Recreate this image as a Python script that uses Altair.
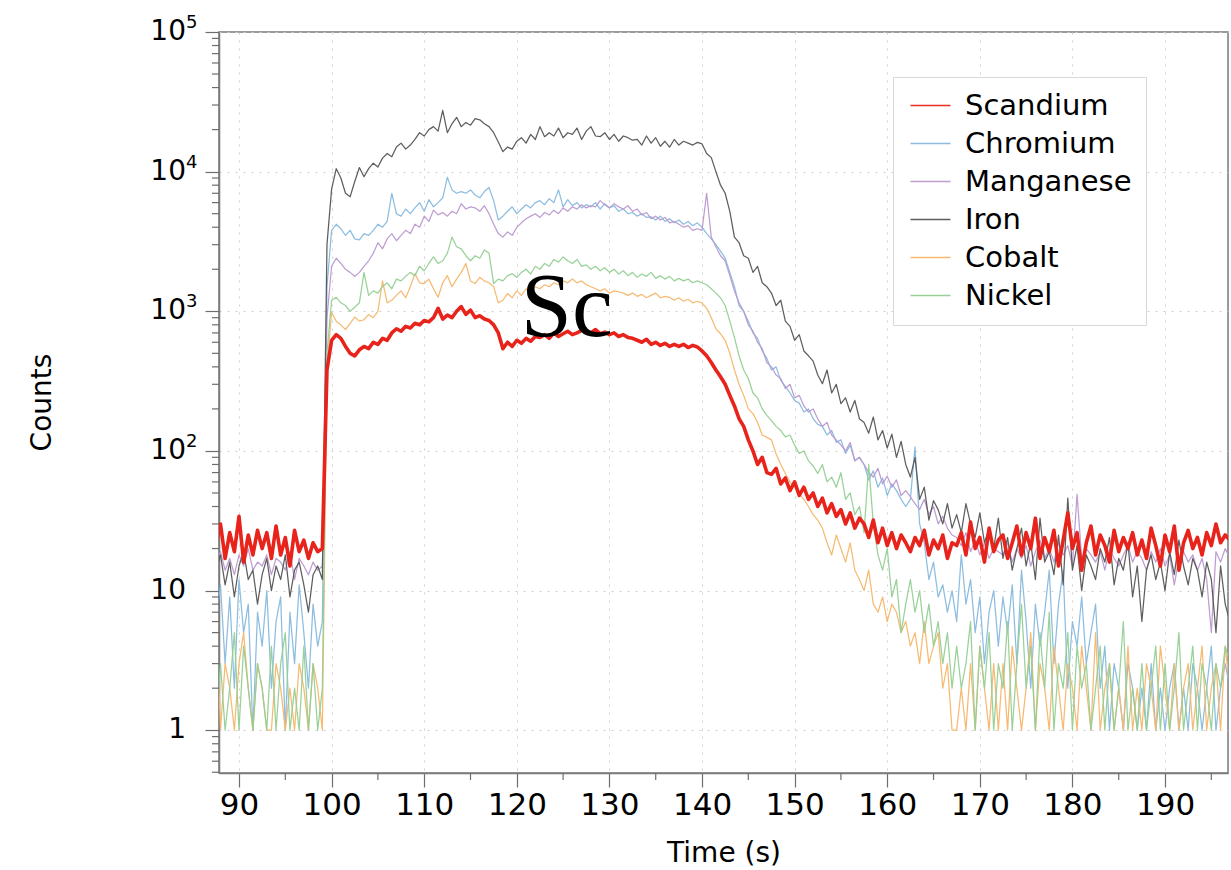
import altair as alt
import pandas as pd

# ---- time grid (0.5 s sampling) ----
T_START = 87.5
T_STEP = 0.5

# ---- counts (0.5 s steps, 87.5 s .. 197.0 s) ----
scandium = [
    21, 30, 17, 26, 19, 34, 16, 25, 18, 27,
    20, 26, 17, 29, 18, 24, 15, 27, 19, 23,
    17, 22, 19, 20, 380, 620, 680, 640, 560, 500,
    480, 530, 560, 540, 600, 580, 640, 620, 700, 750,
    720, 780, 760, 820, 800, 860, 840, 900, 1050, 880,
    940, 900, 1000, 1080, 950, 1020, 900, 930, 880, 860,
    800, 700, 540, 600, 560, 620, 590, 640, 610, 660,
    650, 680, 640, 700, 660, 690, 720, 680, 700, 730,
    720, 700, 740, 690, 710, 680, 700, 660, 680, 650,
    640, 620, 600, 630, 580, 600, 570, 590, 560, 580,
    560, 580, 550, 570, 555, 520, 480, 430, 380, 340,
    300, 250, 210, 170, 150, 120, 100, 80, 90, 70,
    68, 75, 58, 64, 52, 60, 48, 55, 45, 50,
    40, 46, 36, 42, 34, 38, 30, 36, 28, 33,
    30, 24, 32, 22, 28, 21, 26, 20, 25, 22,
    19, 24, 21, 27, 18, 23, 20, 25, 17, 22,
    21, 26, 18, 31, 20, 24, 16, 28, 19, 23,
    25, 17, 22, 29, 18, 26, 20, 33, 17, 24,
    19, 27, 15, 23, 36, 20, 26, 14, 22, 29,
    18, 25, 21, 16, 27, 19, 24, 20, 26, 18,
    23, 17, 28, 21, 15, 25, 19, 29, 14, 22,
    27, 20, 24, 18, 26, 21, 30, 22, 25, 23,
]

chromium = [
    6, 11, 3, 9, 2, 12, 5, 8, 1, 7,
    4, 10, 2, 6, 9, 1, 7, 3, 11, 5,
    2, 8, 4, 6, 1500, 3800, 4200, 3900, 3500, 3800,
    3300, 3250, 3600, 3500, 3800, 4200, 4000, 4400, 7000, 5000,
    4800, 5400, 5000, 5500, 6000, 5200, 6300, 5600, 6000, 6500,
    9100, 7400, 7000, 7200, 7000, 7400, 6800, 6500, 7200, 7700,
    6200, 4500, 4800, 5200, 5600, 5000, 5400, 5800, 5500, 6000,
    6200, 5800, 6400, 6000, 7400, 5600, 6300, 5700, 6000, 5500,
    5800, 5600, 6000, 5400, 5900, 5500, 5700, 5200, 5400, 5000,
    5100, 4800, 5000, 4700, 4750, 4500, 4800, 4400, 4600, 4300,
    4500, 4200, 4400, 4100, 4300, 4000, 3600, 3300, 3000, 2700,
    2400, 1900, 1500, 1100, 1000, 850, 700, 640, 520, 460,
    380, 400, 320, 290, 260, 230, 220, 190, 200, 170,
    155, 150, 130, 140, 115, 120, 96, 110, 85, 90,
    80, 62, 72, 55, 64, 48, 58, 52, 45, 40,
    45, 107, 30, 22, 12, 16, 9, 11, 7, 10,
    6, 18, 8, 12, 5, 9, 3, 7, 10, 4,
    9, 5, 11, 3, 14, 6, 2, 8, 4, 7,
    14, 3, 8, 14, 2, 6, 4, 9, 3, 5,
    8, 2, 4, 1, 3, 2, 1, 3, 2, 1,
    2, 1, 3, 1, 2, 1, 2, 3, 1, 2,
    1, 3, 2, 1, 2, 4, 1, 2, 3, 2,
]

manganese = [
    16, 19, 14, 17, 13, 18, 15, 20, 14, 16,
    15, 18, 13, 17, 16, 14, 19, 12, 17, 15,
    13, 16, 14, 15, 900, 2100, 2400, 2200, 2000, 1900,
    1780, 1900, 2100, 2300, 2600, 3100, 2800, 3300, 3600, 3200,
    3500, 3800, 3600, 4200, 4000, 4800, 4400, 5300, 4900, 5100,
    4800, 5200, 5000, 5900, 5400, 5600, 5500, 5200, 5700, 5000,
    4200, 3600, 3400, 3700, 3500, 4000, 4300, 4600, 4800, 5000,
    4700, 5100, 4900, 5300, 5000, 5500, 5200, 5600, 5400, 5800,
    5500, 5700, 5600, 6200, 5800, 5500, 5900, 5600, 5400, 5700,
    5200, 5400, 4900, 5100, 4600, 4800, 4500, 4700, 4300, 4400,
    4200, 4000, 4100, 3800, 3900, 3800, 7000, 3400, 2900, 2500,
    2300, 1800, 1400, 1150, 1000, 800, 720, 600, 540, 430,
    400, 350, 330, 280, 300, 240, 250, 210, 190, 200,
    170, 150, 160, 130, 120, 110, 100, 115, 85, 90,
    80, 70, 65, 75, 58, 66, 55, 62, 48, 52,
    47, 42, 38, 45, 35, 40, 30, 34, 28, 25,
    24, 21, 26, 19, 23, 18, 22, 17, 20, 19,
    18, 22, 16, 20, 17, 21, 15, 19, 23, 17,
    20, 16, 22, 18, 21, 15, 49, 17, 20, 18,
    16, 19, 14, 20, 17, 15, 18, 21, 16, 19,
    17, 14, 19, 16, 20, 15, 18, 11, 17, 19,
    16, 18, 14, 17, 12, 5, 19, 16, 20, 17,
]

iron = [
    14, 18, 11, 16, 9, 15, 19, 12, 14, 8,
    13, 17, 10, 15, 12, 18, 9, 14, 16, 11,
    7, 13, 15, 12, 3000, 7500, 10500, 9000, 7000, 6600,
    8500, 10700, 9200, 10500, 11500, 10800, 12500, 13500, 12800, 15000,
    16000, 14500, 15500, 17000, 19000, 18000, 20000, 21000, 19500, 27500,
    19000, 22000, 24500, 21000, 22500, 21500, 24000, 23500, 22000, 21000,
    19000, 16300, 13900, 15000, 14500, 16500, 17500, 16000, 18500, 17000,
    21000, 17800, 19000, 18000, 20500, 17500, 19000, 18500, 20500, 17000,
    19500, 21000, 18000, 17800, 19000, 17000, 18500, 16500, 18000, 17500,
    16800, 17000, 15500, 18000, 16000, 17500, 15200, 16500, 15000, 17000,
    15500, 16500, 16000, 15500, 16200, 15800, 13500, 12600, 10000, 8000,
    7000, 5200, 3400, 3100, 2500, 2400, 1900, 2100, 1600, 1500,
    1350, 1100, 1200, 850, 780, 620, 680, 520, 480, 440,
    350, 303, 380, 260, 300, 218, 240, 190, 230, 170,
    160, 134, 175, 120, 140, 105, 132, 90, 117, 80,
    65, 90, 45, 55, 32, 44, 38, 30, 42, 28,
    35, 26, 42, 30, 24, 36, 22, 28, 20, 33,
    17, 24, 14, 20, 28, 15, 22, 12, 33, 16,
    19, 13, 25, 11, 46, 14, 21, 10, 18, 15,
    12, 20, 16, 24, 11, 17, 14, 22, 9, 15,
    6, 14, 18, 12, 16, 10, 19, 13, 23, 15,
    11, 17, 14, 9, 16, 12, 5, 15, 8, 6,
]

cobalt = [
    9, 1, 3, 2, 1, 3, 5, 2, 1, 3,
    2, 1, 1, 3, 2, 1, 2, 1, 3, 2,
    1, 3, 2, 1, 400, 980, 850, 800, 740, 820,
    910, 850, 870, 950, 900, 1000, 1650, 1150, 1200, 1300,
    1400, 1250, 1500, 1860, 1600, 1580, 1700, 1450, 1260, 1600,
    1800, 1500, 1700, 1900, 2200, 1650, 1580, 1750, 1650, 1600,
    1500, 1150, 1200, 1340, 1250, 1400, 1300, 1450, 1350, 1500,
    1450, 1550, 1500, 1600, 1550, 1650, 1600, 1700, 1600, 1650,
    1550, 1500, 1450, 1400, 1450, 1350, 1400, 1380, 1350, 1300,
    1350, 1280, 1320, 1250, 1300, 1350, 1250, 1280, 1260, 1200,
    1250, 1180, 1220, 1150, 1180, 1150, 1050, 900, 750, 690,
    620, 500, 380, 300, 250, 200, 185, 160, 130, 125,
    120, 95, 80, 69, 60, 55, 49, 45, 40, 35,
    32, 28, 22, 18, 25, 20, 16, 22, 14, 12,
    10, 14, 8, 7, 9, 6, 8, 7, 5, 6,
    4, 5, 3, 6, 3, 4, 5, 2, 3, 1,
    1, 2, 1, 3, 1, 4, 2, 1, 3, 1,
    3, 1, 4, 2, 1, 2, 5, 1, 3, 2,
    1, 4, 2, 1, 3, 2, 1, 4, 2, 1,
    5, 1, 2, 3, 1, 2, 1, 4, 1, 2,
    1, 3, 2, 1, 4, 2, 1, 3, 1, 2,
    3, 1, 2, 4, 1, 2, 3, 1, 4, 2,
]

nickel = [
    1, 3, 1, 2, 5, 1, 4, 2, 1, 3,
    2, 1, 4, 1, 3, 5, 1, 2, 1, 4,
    1, 3, 1, 2, 500, 1200, 1260, 1150, 1100, 1000,
    1070, 1150, 1900, 1300, 1400, 1350, 1500, 1600, 1450, 1700,
    1650, 1780, 1900, 1800, 2100, 1950, 2200, 2450, 2200, 2300,
    2600, 3400, 2900, 2800, 2500, 2300, 2500, 2400, 2750, 2600,
    1580, 1700, 1650, 1800, 1860, 1750, 1900, 2000, 1850, 2100,
    2000, 2200, 2100, 2350, 2250, 2450, 2300, 2200, 2350, 2100,
    2150, 2000, 2100, 1950, 2050, 1900, 2000, 1850, 1950, 1800,
    1900, 1750, 1850, 1780, 1900, 1720, 1800, 1700, 1780, 1650,
    1720, 1650, 1700, 1600, 1650, 1600, 1550, 1450, 1350, 1250,
    1100, 850, 650, 480, 380, 330, 260, 240, 200, 180,
    165, 150, 140, 126, 130, 110, 96, 100, 85, 78,
    69, 80, 60, 65, 55, 70, 45, 50, 35, 40,
    26, 80, 30, 18, 14, 20, 9, 12, 5, 8,
    12, 7, 10, 5, 8, 4, 6, 3, 5, 2,
    4, 2, 3, 6, 1, 4, 2, 5, 1, 3,
    2, 6, 1, 3, 8, 2, 4, 1, 5, 2,
    7, 1, 3, 2, 5, 1, 4, 2, 3, 1,
    2, 4, 1, 3, 1, 2, 6, 1, 2, 1,
    3, 1, 2, 4, 1, 3, 1, 2, 5, 1,
    2, 4, 1, 3, 2, 1, 3, 2, 4, 3,
]

elements = ["Scandium", "Chromium", "Manganese", "Iron", "Cobalt", "Nickel"]
colors = ["#e8231b", "#86b9de", "#bb98d0", "#555555", "#f5b66c", "#93cf93"]
series = [scandium, chromium, manganese, iron, cobalt, nickel]

# tick positions and tick labels
x_major = [90, 100, 110, 120, 130, 140, 150, 160, 170, 180, 190]
x_minor = [95, 105, 115, 125, 135, 145, 155, 165, 175, 185, 195]
y_major = [1, 10, 100, 1000, 10000, 100000]
y_base_labels = ["1", "10", "10", "10", "10", "10"]
y_exp_values = [100, 1000, 10000, 100000]
y_exp_labels = ["2", "3", "4", "5"]
y_minor = [0.5, 0.6, 0.7, 0.8, 0.9,
           2, 3, 4, 5, 6, 7, 8, 9,
           20, 30, 40, 50, 60, 70, 80, 90,
           200, 300, 400, 500, 600, 700, 800, 900,
           2000, 3000, 4000, 5000, 6000, 7000, 8000, 9000,
           20000, 30000, 40000, 50000, 60000, 70000, 80000, 90000]

# annotation
sc_label = ["Sc"]
sc_time = [125.4]
sc_counts = [662]

n = len(scandium)
times = [T_START + i * T_STEP for i in range(n)]
rows = []
for name, vals in zip(elements, series):
    assert len(vals) == n, (name, len(vals))
    for t, v in zip(times, vals):
        rows.append({"Time": t, "Counts": v, "Element": name})
df = pd.DataFrame(rows)
df_sc = df[df.Element == "Scandium"]
df_other = df[df.Element != "Scandium"]

FONT = "DejaVu Sans"
AXIS_COL = "#6e6e6e"

x_scale = alt.Scale(domain=[87.84, 196.8], nice=False, zero=False)
y_scale = alt.Scale(type="log", domain=[0.494, 100000], nice=False)

x_axis = alt.Axis(values=x_major, title="Time (s)", tickSize=14, labelPadding=3,
                  labelFontSize=31, grid=True, titleY=80, titleBaseline="middle")
y_axis = alt.Axis(values=y_major, title="Counts", tickSize=14, labels=False,
                  grid=True, titleX=-177, titleY=370, titleAngle=-90,
                  titleBaseline="middle", titleAlign="center")

legend = alt.Legend(
    orient="none", legendX=674, legendY=45, title=None,
    symbolType="M-2,0H2", symbolSize=400, symbolOffset=9, symbolStrokeWidth=1.6,
    labelOffset=20, labelLimit=400,
    labelFont=FONT, labelFontSize=29, labelColor="black",
    rowPadding=8, padding=14,
    fillColor="white", strokeColor="#d8d8d8",
)

color = alt.Color("Element:N", scale=alt.Scale(domain=elements, range=colors), legend=legend)

X = alt.X("Time:Q", scale=x_scale, axis=x_axis)
Y = alt.Y("Counts:Q", scale=y_scale, axis=y_axis)

others = alt.Chart(df_other).mark_line(clip=True, strokeWidth=1.25, opacity=0.95,
                                       strokeJoin="round").encode(x=X, y=Y, color=color)
scl = alt.Chart(df_sc).mark_line(clip=True, strokeWidth=3.6, strokeJoin="round").encode(
    x=X, y=Y, color=color)

sc_df = pd.DataFrame({"Time": sc_time, "Counts": sc_counts, "label": sc_label})
sc_text = alt.Chart(sc_df).mark_text(font="Liberation Serif", fontSize=92, color="black",
                                     align="center", baseline="alphabetic").encode(
    x=X, y=Y, text="label:N")

# y tick labels: base "10"/"1" plus a raised exponent
base_df = pd.DataFrame({"Counts": y_major, "lab": y_base_labels})
ybase = alt.Chart(base_df).mark_text(font=FONT, fontSize=28, color="black", align="right",
                                     baseline="middle").encode(
    y=Y, x=alt.value(-33), text="lab:N")
exp_df = pd.DataFrame({"Counts": y_exp_values, "lab": y_exp_labels})
yexp = alt.Chart(exp_df).mark_text(font=FONT, fontSize=18, color="black", align="left",
                                   baseline="middle", dy=-9).encode(
    y=Y, x=alt.value(-33), text="lab:N")

ymin_df = pd.DataFrame({"Counts": y_minor})
ymin = alt.Chart(ymin_df).mark_rule(color=AXIS_COL, strokeWidth=1.2).encode(
    y=Y, x=alt.value(-7), x2=alt.value(0))

xmin_df = pd.DataFrame({"Time": x_minor})
xmin = alt.Chart(xmin_df).mark_rule(color=AXIS_COL, strokeWidth=1.2).encode(
    x=X, y=alt.value(741), y2=alt.value(748))

chart = alt.layer(others, scl, sc_text, ybase, yexp, ymin, xmin).properties(
    width=1009, height=741,
    autosize=alt.AutoSizeParams(type="none"),
    padding={"left": 219, "top": 32, "right": 3, "bottom": 97},
    background="white",
).configure_view(
    stroke="#7a7a7a", strokeWidth=1.5
).configure_axis(
    labelFont=FONT, labelFontSize=29, labelColor="black",
    titleFont=FONT, titleFontSize=28, titleFontWeight="normal", titleColor="black",
    domainColor="#7a7a7a", domainWidth=1.5, tickColor=AXIS_COL, tickWidth=1.2,
    gridColor="#cfcfcf", gridDash=[2, 6], gridWidth=1,
)

chart.save("out.html", embed_options={"renderer": "svg", "actions": False})
